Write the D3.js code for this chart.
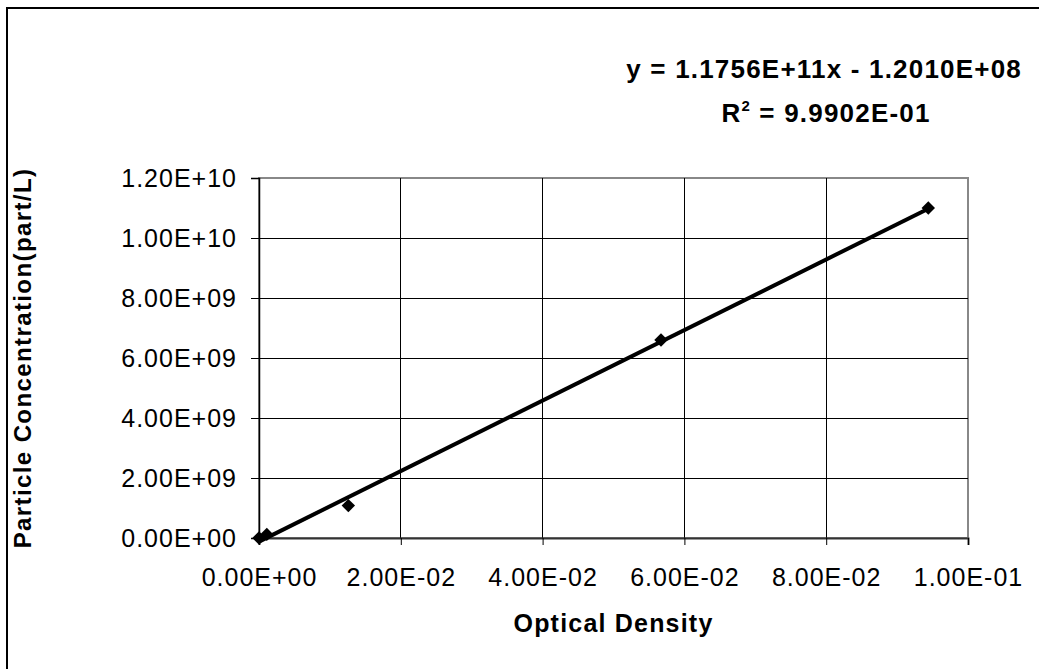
<!DOCTYPE html>
<html>
<head>
<meta charset="utf-8">
<script src="https://cdn.jsdelivr.net/npm/d3@7"></script>
<style>
  html, body { margin: 0; padding: 0; background: #fff; }
  svg { display: block; }
  text { font-family: "Liberation Sans", Arial, sans-serif; fill: #000; }
</style>
</head>
<body>
<svg id="chart" width="1039" height="669"></svg>
<script>
// Calibration measurements: optical density vs particle concentration
const opticalDensity = [0.0000, 0.0011, 0.0126, 0.0567, 0.0944];
const concentration = [0.0, 1.2e8, 1.08e9, 6.60e9, 1.10e10];

// Linear fit reported on the chart
const fitSlope = 1.1756e11;
const fitIntercept = -1.2010e8;
const fitLabel = "y = 1.1756E+11x - 1.2010E+08";
const r2Label = "9.9902E-01";

const xTicks = [0, 0.02, 0.04, 0.06, 0.08, 0.10];
const xTickLabels = ["0.00E+00", "2.00E-02", "4.00E-02", "6.00E-02", "8.00E-02", "1.00E-01"];
const yTicks = [0, 2e9, 4e9, 6e9, 8e9, 1e10, 1.2e10];
const yTickLabels = ["0.00E+00", "2.00E+09", "4.00E+09", "6.00E+09", "8.00E+09", "1.00E+10", "1.20E+10"];

const svg = d3.select("#chart");
const plot = { left: 259, top: 178, right: 968, bottom: 538 };

const x = d3.scaleLinear().domain([0, 0.1]).range([plot.left, plot.right]);
const y = d3.scaleLinear().domain([0, 1.2e10]).range([plot.bottom, plot.top]);

// Outer chart frame (only top and left edges fall inside the canvas)
svg.append("rect")
  .attr("x", 7).attr("y", 8).attr("width", 1100).attr("height", 700)
  .attr("fill", "none").attr("stroke", "#000").attr("stroke-width", 2);

// Plot area frame
svg.append("rect")
  .attr("x", plot.left).attr("y", plot.top)
  .attr("width", plot.right - plot.left).attr("height", plot.bottom - plot.top)
  .attr("fill", "#fff").attr("stroke", "#888").attr("stroke-width", 2);

// Gridlines
svg.append("g")
  .selectAll("line.v")
  .data(xTicks.slice(1, -1))
  .join("line")
  .attr("x1", d => x(d)).attr("x2", d => x(d))
  .attr("y1", plot.top).attr("y2", plot.bottom)
  .attr("stroke", "#000").attr("stroke-width", 1).attr("shape-rendering", "crispEdges");
svg.append("g")
  .selectAll("line.h")
  .data(yTicks.slice(1, -1))
  .join("line")
  .attr("x1", plot.left).attr("x2", plot.right)
  .attr("y1", d => y(d)).attr("y2", d => y(d))
  .attr("stroke", "#000").attr("stroke-width", 1).attr("shape-rendering", "crispEdges");

// Axes
const xAxis = d3.axisBottom(x).tickValues(xTicks)
  .tickFormat((d, i) => xTickLabels[i]).tickSize(7).tickPadding(23);
const yAxis = d3.axisLeft(y).tickValues(yTicks)
  .tickFormat((d, i) => yTickLabels[i]).tickSize(8).tickPadding(14);

const gx = svg.append("g").attr("transform", `translate(0,${plot.bottom})`).call(xAxis);
gx.select(".domain").attr("stroke", "#333").attr("stroke-width", 2);
gx.selectAll(".tick line").attr("stroke", "#000").attr("stroke-width", 1);
gx.selectAll(".tick text")
  .style("font-family", "'Liberation Sans', Arial, sans-serif")
  .style("font-size", "25px").style("letter-spacing", "1px").attr("fill", "#000")
  .attr("dy", "0.71em");

const gy = svg.append("g").attr("transform", `translate(${plot.left},0)`).call(yAxis);
gy.select(".domain").attr("stroke", "#000").attr("stroke-width", 1.5);
gy.selectAll(".tick line").attr("stroke", "#000").attr("stroke-width", 1);
gy.selectAll(".tick text")
  .style("font-family", "'Liberation Sans', Arial, sans-serif")
  .style("font-size", "25px").style("letter-spacing", "1px").attr("fill", "#000");

// Trend line over the measured range
const xMin = d3.min(opticalDensity), xMax = d3.max(opticalDensity);
svg.append("line")
  .attr("x1", x(xMin)).attr("y1", y(fitSlope * xMin + fitIntercept))
  .attr("x2", x(xMax)).attr("y2", y(fitSlope * xMax + fitIntercept))
  .attr("stroke", "#000").attr("stroke-width", 4);

// Data markers (diamonds)
const diamond = d3.symbol().type(d3.symbolSquare).size(90);
svg.append("g")
  .selectAll("path")
  .data(opticalDensity.map((v, i) => [v, concentration[i]]))
  .join("path")
  .attr("d", diamond)
  .attr("transform", d => `translate(${x(d[0])},${y(d[1])}) rotate(45)`)
  .attr("fill", "#000");

// Axis titles
svg.append("text")
  .attr("x", (plot.left + plot.right) / 2).attr("y", 632)
  .attr("text-anchor", "middle")
  .style("font-size", "25px").style("font-weight", "bold").style("letter-spacing", "1.2px")
  .text("Optical Density");

svg.append("text")
  .attr("transform", `translate(31,${(plot.top + plot.bottom) / 2}) rotate(-90)`)
  .attr("text-anchor", "middle")
  .style("font-size", "24px").style("font-weight", "bold").style("letter-spacing", "1.4px")
  .text("Particle Concentration(part/L)");

// Fit equation and coefficient of determination
const eq = svg.append("g").style("font-size", "26px").style("font-weight", "bold").style("letter-spacing", "1.2px");
eq.append("text")
  .attr("x", 1022).attr("y", 78).attr("text-anchor", "end")
  .text(fitLabel);
const r2 = eq.append("text").attr("x", 826).attr("y", 122).attr("text-anchor", "middle");
r2.append("tspan").text("R");
r2.append("tspan").attr("dy", -11).style("font-size", "15px").text("2");
r2.append("tspan").attr("dy", 11).text(" = " + r2Label);
</script>
</body>
</html>
